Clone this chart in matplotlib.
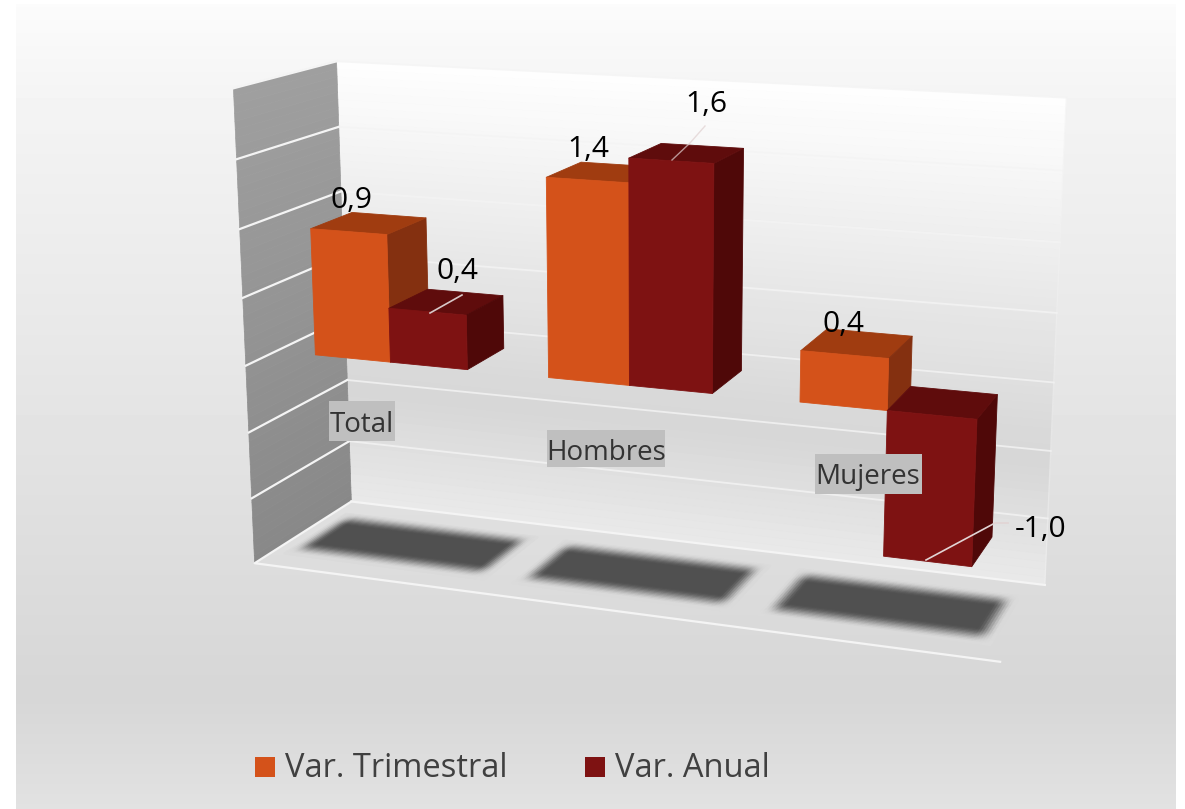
import numpy as np
import matplotlib
matplotlib.use("Agg")
import matplotlib.pyplot as plt
from matplotlib.patches import Rectangle
from mpl_toolkits.mplot3d.art3d import Poly3DCollection

categories = ["Total", "Hombres", "Mujeres"]
series_names = ["Var. Trimestral", "Var. Anual"]
var_trimestral = [0.94, 1.43, 0.36]
var_anual = [0.4, 1.6, -1.03]
z_ticks = [-1.5, -1.0, -0.5, 0.0, 0.5, 1.0, 1.5, 2.0]

W, H = 1185, 809
FONT = "Open Sans"

# face colours: front, top, right side
orange = ["#d4521a", "#a03c10", "#843010"]
darkred = ["#7e1212", "#5f0c0c", "#4f0808"]

fig = plt.figure(figsize=(W / 100, H / 100), dpi=100, facecolor="white")

# page background
bg = fig.add_axes([16 / W, 0, (1176 - 16) / W, (H - 4) / H])
stops = np.interp(np.arange(805), [0, 100, 690, 805], [0.985, 0.955, 0.84, 0.885])
bg.imshow(stops[:, None], cmap="gray", vmin=0, vmax=1, aspect="auto")
bg.axis("off")

# the 3d axes stays square, so make it big enough to hold the whole figure
side = W / H
ax = fig.add_axes([0, (1 - side) / 2, 1, side], projection="3d", computed_zorder=False)
ax.set_axis_off()
ax.patch.set_visible(False)
ax.set_xlim(0, 3)
ax.set_ylim(0, 1)
ax.set_zlim(-1.5, 2)
ax.apply_aspect()

# camera fitted on the chart box corners, (x, depth, value) -> picture pixel
box_world = [(0, 0, -1.5), (0, 1, -1.5), (3, 1, -1.5), (3, 0, -1.5), (0, 0, 2), (0, 1, 2),
             (3, 1, 2), (0, 0, 0), (0, 1, 0), (3, 1, 0)]
box_px = [(256, 563), (351, 501), (1045, 585), (1000, 662), (234, 88), (337, 61),
          (1066, 98), (244, 366), (345, 319), (1054, 382)]
view = ax.transData.inverted().transform([(px, H - py) for px, py in box_px])
rows = []
for (x, y, z), (u, v) in zip(box_world, view):
    rows.append([x, y, z, 1, 0, 0, 0, 0, -u * x, -u * y, -u * z, -u])
    rows.append([0, 0, 0, 0, x, y, z, 1, -v * x, -v * y, -v * z, -v])
P = np.linalg.svd(np.array(rows))[2][-1].reshape(3, 4)
if P[2] @ [1.5, 0.5, 0, 1] < 0:
    P = -P
M = np.vstack([P[0], P[1], [0, 0, 0, -1], P[2]])
ax.get_proj = lambda: M


def gray(level):
    return (level, level, level, 1)


def wall_strips(corner_fn, z_stops, level_stops, zorder):
    edges = np.linspace(-1.5, 2, 61)
    polys, colors = [], []
    for lo, hi in zip(edges[:-1], edges[1:]):
        polys.append(corner_fn(lo, hi))
        colors.append(gray(np.interp(lo, z_stops, level_stops)))
    ax.add_collection3d(Poly3DCollection(polys, facecolors=colors, edgecolors=colors,
                                         linewidths=0.5, zorder=zorder))


def soft_edge(d, blur):
    t = np.clip((d + blur) / (2 * blur), 0, 1)
    return t * t * (3 - 2 * t)


# back wall and side wall
wall_strips(lambda a, b: [(0, 1, a), (3, 1, a), (3, 1, b), (0, 1, b)],
            [-1.5, -0.6, 2], [0.915, 0.84, 1.0], 1)
wall_strips(lambda a, b: [(0, 0, a), (0, 1, a), (0, 1, b), (0, 0, b)],
            [-1.5, 2], [0.535, 0.625], 2)

# gridlines
for z in z_ticks[1:]:
    ax.plot([0, 0], [0, 1], [z, z], color="#f4f4f4", lw=1.6, zorder=3)
    ax.plot([0, 3], [1, 1], [z, z], color="#f4f4f4", lw=1.3, alpha=0.8, zorder=3)
ax.plot([3, 3], [1, 1], [-1.5, 2], color="#f2f2f2", lw=1, alpha=0.5, zorder=3)

# floor edges
ax.plot([0, 0, 3], [1, 0, 0], [-1.5, -1.5, -1.5], color="#f4f4f4", lw=1.6, zorder=3)
ax.plot([0, 3], [1, 1], [-1.5, -1.5], color="#f4f4f4", lw=1.6, zorder=3)

# blurred shadows on the floor, small quads shaded by a soft box
shadow_left = 0.095
shadow_width = 0.80
shadow_front, shadow_back = 0.26, 0.725
blur_x, blur_y = 0.04, 0.09
floor_level, shadow_level = 0.858, 0.315
for i in range(len(categories)):
    x0, x1 = i + shadow_left, i + shadow_left + shadow_width
    xs = np.linspace(x0 - blur_x, x1 + blur_x, 91)
    ys = np.linspace(shadow_front - blur_y, shadow_back + blur_y, 41)
    polys, colors = [], []
    for xa, xb in zip(xs[:-1], xs[1:]):
        for ya, yb in zip(ys[:-1], ys[1:]):
            xm, ym = (xa + xb) / 2, (ya + yb) / 2
            m = (soft_edge(xm - x0, blur_x) * soft_edge(x1 - xm, blur_x)
                 * soft_edge(ym - shadow_front, blur_y) * soft_edge(shadow_back - ym, blur_y))
            polys.append([(xa, ya, -1.5), (xb, ya, -1.5), (xb, yb, -1.5), (xa, yb, -1.5)])
            colors.append(gray(floor_level + m * (shadow_level - floor_level)))
    ax.add_collection3d(Poly3DCollection(polys, facecolors=colors, edgecolors=colors,
                                         linewidths=1.2, zorder=4))

# bars, one collection each so they stack left to right
cluster_left = 0.175
bar_w = 0.33
bar_front, bar_back = 0.29, 0.71
hidden = (0, 0, 0, 0)
z_order = 5
for i in range(len(categories)):
    for j, (vals, cols) in enumerate(zip([var_trimestral, var_anual], [orange, darkred])):
        v = vals[i]
        # bottom, top, front, back, left, right
        faces = [hidden, cols[1], cols[0], hidden, hidden, cols[2]]
        ax.bar3d(i + cluster_left + j * bar_w, bar_front, min(v, 0), bar_w, bar_back - bar_front,
                 abs(v), color=faces, shade=False, edgecolor=faces, linewidth=0.6, zorder=z_order)
        z_order += 1

# labels and legend sit on a flat overlay in picture pixels
top = fig.add_axes([0, 0, 1, 1], facecolor="none")
top.set_xlim(0, W)
top.set_ylim(H, 0)
top.axis("off")

# leader lines
top.plot([430, 462], [313, 295], color="#d8c8c8", lw=1.2)
top.plot([672, 690, 705], [160, 143, 126], color="#e0d0d0", lw=1, alpha=0.7)
top.plot([926, 995, 1008], [560, 523, 523], color="#e2d4d4", lw=1.2)

value_pos = [(351, 208), (458, 279), (588, 157), (706, 112), (843, 332), (1041, 537)]
value_text = [var_trimestral[0], var_anual[0], var_trimestral[1], var_anual[1],
              var_trimestral[2], var_anual[2]]
for (px, py), v in zip(value_pos, value_text):
    top.text(px, py, f"{v:.1f}".replace(".", ","), ha="center", va="baseline",
             fontsize=21.5, color="black", family=FONT)

cat_pos = [(362, 432), (606, 460), (868, 484)]
cat_box = [(329, 401, 66, 40), (547, 430, 118, 37), (815, 454, 107, 40)]
for name, (px, py), (bx, by, bw, bh) in zip(categories, cat_pos, cat_box):
    top.add_patch(Rectangle((bx, by), bw, bh, facecolor="#bfbfbf", edgecolor="none"))
    top.text(px, py, name, ha="center", va="baseline", fontsize=20, color="#333333", family=FONT)

# legend
for (sx, tx), name, col in zip([(255, 285), (585, 615)], series_names, [orange[0], darkred[0]]):
    top.add_patch(Rectangle((sx, 757), 20, 20, facecolor=col, edgecolor="none"))
    top.text(tx, 777, name, ha="left", va="baseline", fontsize=23.5, color="#404040", family=FONT)

fig.savefig("out.png", dpi=100)
